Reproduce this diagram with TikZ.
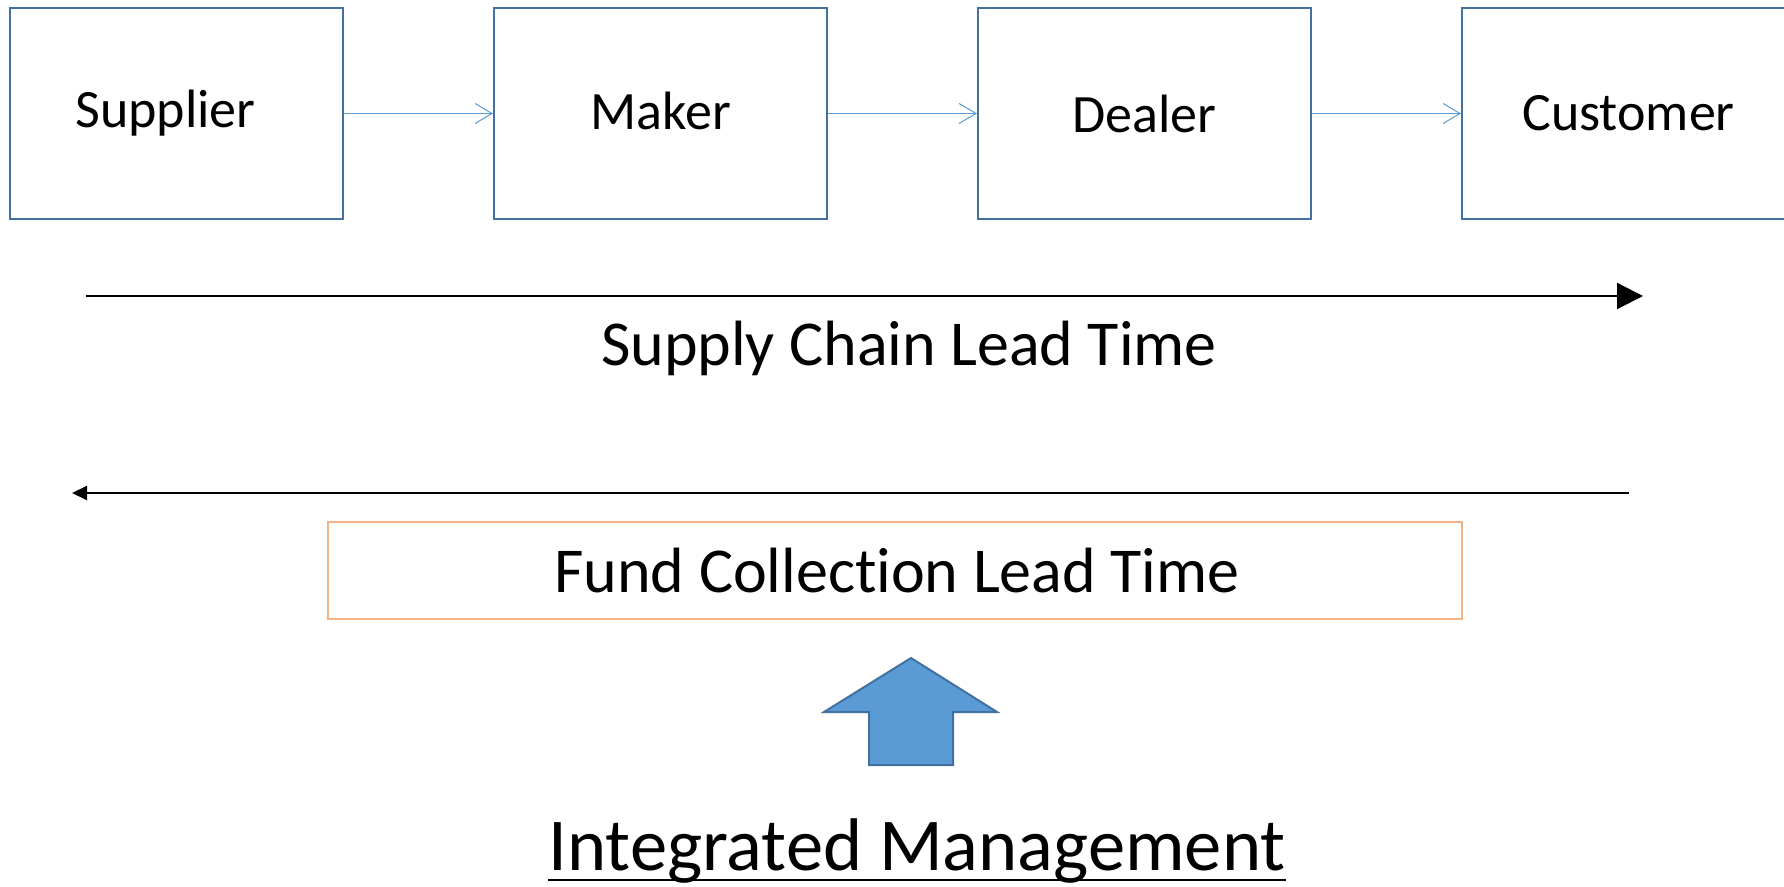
\documentclass[tikz,border=0pt]{standalone}
\usepackage{fontspec}
\setmainfont{Carlito}[Ligatures=NoCommon]
\usepackage{tikz}
\usetikzlibrary{arrows.meta,positioning}

\definecolor{boxblue}{HTML}{41719C}
\definecolor{lightblue}{HTML}{5B9BD5}
\definecolor{fundorange}{HTML}{F4B183}

\tikzset{
	party/.style = {draw=boxblue, line width=1pt, minimum width=166.5pt, minimum height=105.5pt, inner sep=0pt, font=\fontsize{27}{32}\selectfont},
	flow/.style = {draw=lightblue, line width=0.5pt, -{Straight Barb[length=8.5pt, width=10pt]}},
	lead/.style = {line width=1.1pt},
	bigtext/.style = {inner sep=0pt, font=\fontsize{32}{38}\selectfont}
}

\begin{document}
\begin{tikzpicture}[x=0.5pt, y=-0.5pt, node distance=242pt, on grid]
	\useasboundingbox (0,0) rectangle (1784,887);

	\node[party] (sup) at (176.5,113.5) {Supplier\hspace*{11pt}};
	\node[party] (mak) [right=of sup] {\raisebox{2.5pt}{Maker}};
	\node[party] (dea) [right=of mak] {Dealer};
	\node[party] (cus) [right=of dea] {Customer};

	\path[flow]
		(sup) edge (mak)
		(mak) edge (dea)
		(dea) edge (cus)
	;

	% lead times
	\coordinate (sc_start) at (86,296);
	\coordinate (sc_end) at (1643,296);
	\draw[lead, -{Triangle[length=13pt, width=13pt]}] (sc_start) -- (sc_end);
	\node[bigtext, anchor=base] (sc) at (909,366) {Supply Chain Lead Time};

	\coordinate (fc_start) at (1629,493);
	\coordinate (fc_end) at (72,493);
	\draw[line width=1pt, -{Triangle[length=7.5pt, width=7pt]}] (fc_start) -- (fc_end);
	\node[bigtext, draw=fundorange, line width=0.75pt, minimum width=567pt, minimum height=48.5pt] (fc) at (895,570.5) {};
	\node[bigtext, anchor=base] (fc_text) at (897,593) {Fund Collection Lead Time};

	% block arrow
	\draw[draw=boxblue, fill=lightblue, line width=1pt]
		(911,658) -- (997,712) -- (953,712) -- (953,765) -- (869,765) -- (869,712) -- (824,712) -- cycle;

	\node[inner sep=0pt, anchor=base, font=\fontsize{37.3}{44}\selectfont] (im) at (917,870) {Integrated Management};
	\draw[line width=1.4pt] ([yshift=-5pt]im.base west) -- ([yshift=-5pt]im.base east);
\end{tikzpicture}
\end{document}
